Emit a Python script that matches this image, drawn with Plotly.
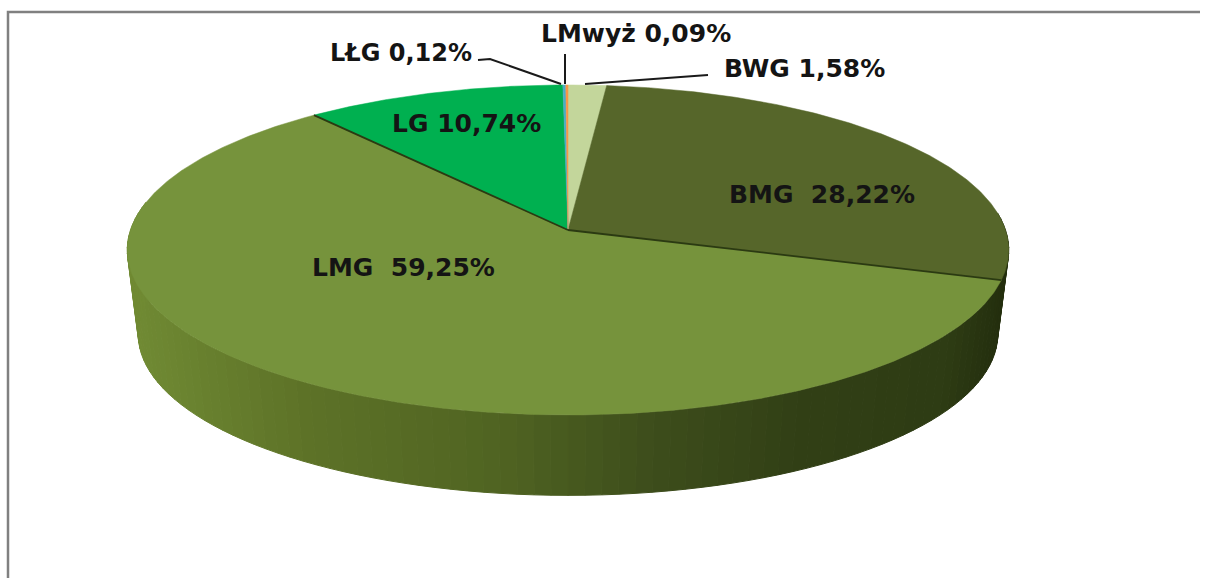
import numpy as np
import plotly.graph_objects as go

# ---- data (clockwise from the top of the pie) ----
labels = ["BWG", "BMG", "LMG", "LG", "LŁG", "LMwyż"]
values = [1.58, 28.22, 59.25, 10.74, 0.12, 0.09]
texts = ["BWG 1,58%", "BMG\u00a0\u00a028,22%", "LMG\u00a0\u00a059,25%", "LG 10,74%", "LŁG 0,12%", "LMwyż 0,09%"]
colors = ["#c3d69b", "#56662a", "#76933c", "#00b050", "#4bacc6", "#f79646"]

# ---- styling / geometry of the tilted pie ----
W, H = 1208, 578
APEX = (568, 230)
K, A, B = 0.121, 162.6, 437.5   # perspective projection of the disc
DEPTH_DY, DEPTH_S = 85, 0.975   # lower rim of the disc
LABEL_POS = {"BWG": (804, 68), "BMG": (822, 194), "LMG": (403, 267),
             "LG": (466, 123), "LŁG": (401, 53), "LMwyż": (636, 33)}
LEADERS = [([478, 490, 561], [60, 59, 84]),
           ([565, 565], [54, 84]),
           ([585, 708], [84, 75])]
SIDE_X = [127, 300, 500, 650, 800, 950, 1005]
SIDE_RGB = [(113, 139, 52), (94, 115, 40), (80, 100, 34), (62, 78, 28), (50, 64, 22), (46, 60, 20), (36, 47, 14)]


def project(theta, scale=1.0, dy=0.0):
    """theta is clockwise from the top, in degrees."""
    t = np.radians(theta)
    d = 1 + K * np.cos(t)
    return (APEX[0] + scale * B * np.sin(t) / d,
            APEX[1] + dy - scale * A * np.cos(t) / d)


def side_color(x):
    c = [np.interp(x, SIDE_X, [s[i] for s in SIDE_RGB]) for i in range(3)]
    return "rgb(%d,%d,%d)" % tuple(c)


fig = go.Figure()


def poly(xs, ys, fill, line=None, lw=1):
    fig.add_trace(go.Scatter(x=list(xs), y=list(ys), mode="lines", fill="toself",
                             fillcolor=fill, line=dict(color=line or fill, width=lw),
                             hoverinfo="skip", showlegend=False))


# side wall, as narrow strips so it can shade from left to right
edges = np.arange(84, 282, 2.0)
for t0, t1 in zip(edges[:-1], edges[1:]):
    x0, y0 = project(t0)
    x1, y1 = project(t1)
    x2, y2 = project(t1, DEPTH_S, DEPTH_DY)
    x3, y3 = project(t0, DEPTH_S, DEPTH_DY)
    poly([x0, x1, x2, x3, x0], [y0, y1, y2, y3, y0], side_color((x0 + x1) / 2))

# top face: one wedge per value
cum = np.concatenate([[0], np.cumsum(values)]) / np.sum(values) * 360
for i, name in enumerate(labels):
    th = np.linspace(cum[i], cum[i + 1], max(3, int((cum[i + 1] - cum[i]) * 2)))
    x, y = project(th)
    poly(np.r_[APEX[0], x, APEX[0]], np.r_[APEX[1], y, APEX[1]], colors[i], lw=0.5)

# dark separators between the large wedges
for c in cum[2:4]:
    x, y = project(c)
    fig.add_trace(go.Scatter(x=[APEX[0], x], y=[APEX[1], y], mode="lines",
                             line=dict(color="#2b3a12", width=1.8),
                             hoverinfo="skip", showlegend=False))

# leader lines
for lx, ly in LEADERS:
    fig.add_trace(go.Scatter(x=lx, y=ly, mode="lines", line=dict(color="#1a1a1a", width=2),
                             hoverinfo="skip", showlegend=False))

# frame of the picture
fig.add_trace(go.Scatter(x=[8, 8, 1200], y=[578, 12, 12], mode="lines",
                         line=dict(color="#808080", width=2.5),
                         hoverinfo="skip", showlegend=False))

annotations = [dict(x=LABEL_POS[n][0], y=LABEL_POS[n][1], text="<b>%s</b>" % t, showarrow=False,
                    xref="x", yref="y", xanchor="center", yanchor="middle",
                    font=dict(family="DejaVu Sans", size=25 if n != "LŁG" else 24, color="#141414"))
               for n, t in zip(labels, texts)]

fig.update_layout(width=W, height=H, margin=dict(l=0, r=0, t=0, b=0),
                  paper_bgcolor="white", plot_bgcolor="white", showlegend=False,
                  xaxis=dict(range=[0, W], visible=False, fixedrange=True),
                  yaxis=dict(range=[H, 0], visible=False, fixedrange=True),
                  annotations=annotations)
fig.write_html("out.html", config={"displayModeBar": False},
               post_script="document.body.style.margin='0';document.body.style.overflow='hidden';")
